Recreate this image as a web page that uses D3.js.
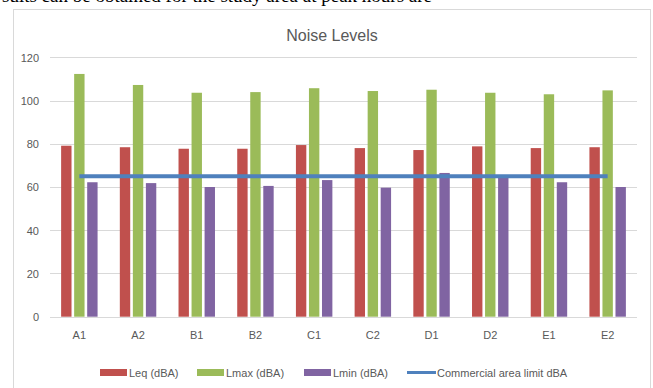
<!DOCTYPE html>
<html><head><meta charset="utf-8">
<script src="https://cdn.jsdelivr.net/npm/d3@7"></script>
<style>
html,body{margin:0;padding:0;background:#fff;}
svg{display:block;}
</style></head>
<body>
<svg id="c" width="653" height="388"></svg>
<script>
const categories = ["A1","A2","B1","B2","C1","C2","D1","D2","E1","E2"];
const leq  = [79.1, 78.4, 77.7, 77.7, 79.4, 78.0, 77.1, 78.8, 78.0, 78.4];
const lmax = [112.3, 107.2, 103.6, 103.9, 105.7, 104.4, 105.0, 103.6, 102.9, 104.7];
const lmin = [62.2, 61.8, 60.0, 60.5, 63.2, 59.7, 66.5, 64.5, 62.2, 60.0];
const limit = [65, 65, 65, 65, 65, 65, 65, 65, 65, 65];
const seriesNames = ["Leq (dBA)", "Lmax (dBA)", "Lmin (dBA)", "Commercial area limit dBA"];
const yTicks = [0, 20, 40, 60, 80, 100, 120];

const colors = ["#c0504d", "#9bbb59", "#8064a2", "#4f81bd"];
const svg = d3.select("#c");
const font = "'Liberation Sans', Arial, sans-serif";

// partial document text above chart (clipped by the page top, as in the reference)
svg.append("text").attr("x", 2).attr("y", 1.5)
  .attr("font-family", "'Liberation Serif', 'Times New Roman', serif")
  .attr("font-size", 19).attr("fill", "#000")
  .text("sults can be obtained for the study area at peak hours are");

// chart frame
svg.append("rect").attr("x", 13.5).attr("y", 9.5).attr("width", 637).attr("height", 390)
  .attr("fill", "#fff").attr("stroke", "#d9d9d9").attr("stroke-width", 1);

const plot = {left: 50, right: 637, top: 57.3, bottom: 316.7};
const x = d3.scaleBand().domain(categories).range([plot.left, plot.right]).padding(0);
const y = d3.scaleLinear().domain([0, 120]).range([plot.bottom, plot.top]);

// gridlines
svg.append("g").selectAll("line").data(yTicks.filter(d => d > 0)).join("line")
  .attr("x1", plot.left).attr("x2", plot.right)
  .attr("y1", d => Math.round(y(d)) + 0.5).attr("y2", d => Math.round(y(d)) + 0.5)
  .attr("stroke", "#d9d9d9").attr("stroke-width", 1);

// y axis labels
const yAxis = d3.axisLeft(y).tickValues(yTicks).tickSize(0).tickPadding(0);
const gy = svg.append("g").attr("transform", `translate(39,0)`).call(yAxis);
gy.select(".domain").remove();
gy.selectAll("text").attr("font-family", font).attr("font-size", 11).attr("fill", "#595959").attr("dy", "0.35em");

// bars
const step = x.bandwidth();
const barW = step * 0.177;
const barGap = step * 0.045;
const series = [leq, lmax, lmin];
const offsets = [-1.5 * barW - barGap, -0.5 * barW, 0.5 * barW + barGap];
series.forEach((vals, si) => {
  svg.append("g").selectAll("rect").data(categories).join("rect")
    .attr("x", (c) => x(c) + step / 2 + offsets[si])
    .attr("width", barW)
    .attr("y", (c, i) => y(vals[i]))
    .attr("height", (c, i) => y(0) - y(vals[i]))
    .attr("fill", colors[si]);
});

// x axis line
svg.append("line").attr("x1", plot.left).attr("x2", plot.right)
  .attr("y1", Math.round(y(0)) + 0.5).attr("y2", Math.round(y(0)) + 0.5)
  .attr("stroke", "#d9d9d9").attr("stroke-width", 1);

// x labels
const xAxis = d3.axisBottom(x).tickSize(0).tickPadding(0);
const gx = svg.append("g").attr("transform", `translate(0,${y(0)})`).call(xAxis);
gx.select(".domain").remove();
gx.selectAll("text").attr("font-family", font).attr("font-size", 11).attr("fill", "#595959").attr("dy", "0").attr("y", 22);

// limit line
const line = d3.line().x((d, i) => x(categories[i]) + step / 2).y(d => y(d));
svg.append("path").datum(limit).attr("d", line)
  .attr("fill", "none").attr("stroke", colors[3]).attr("stroke-width", 4);

// title
svg.append("text").attr("x", 332).attr("y", 41).attr("text-anchor", "middle")
  .attr("font-family", font).attr("font-size", 16).attr("fill", "#595959").text("Noise Levels");

// legend
const legY = 372.5;
const legItems = [
  {x: 100, type: "rect"},
  {x: 197, type: "rect"},
  {x: 304, type: "rect"},
  {x: 407, type: "line"}
];
legItems.forEach((it, i) => {
  if (it.type === "rect") {
    svg.append("rect").attr("x", it.x).attr("y", legY - 3.5).attr("width", 27).attr("height", 7).attr("fill", colors[i]);
  } else {
    svg.append("line").attr("x1", it.x).attr("x2", it.x + 29).attr("y1", legY).attr("y2", legY)
      .attr("stroke", colors[i]).attr("stroke-width", 3);
  }
  svg.append("text").attr("x", it.x + (it.type === "rect" ? 29 : 30)).attr("y", legY + 4)
    .attr("font-family", font).attr("font-size", 11).attr("fill", "#595959").text(seriesNames[i]);
});
</script>
</body></html>
